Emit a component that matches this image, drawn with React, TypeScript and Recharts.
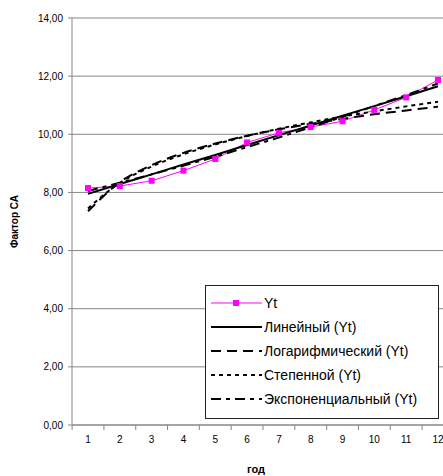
import React from 'react';
import { LineChart, Line, XAxis, YAxis, CartesianGrid, Legend, Label } from 'recharts';

const years = [1, 2, 3, 4, 5, 6, 7, 8, 9, 10, 11, 12];
const yt = [8.15, 8.22, 8.4, 8.75, 9.15, 9.72, 10.05, 10.25, 10.45, 10.84, 11.27, 11.87];
const linear = [7.95, 8.29, 8.62, 8.96, 9.29, 9.63, 9.97, 10.3, 10.64, 10.97, 11.31, 11.65];
const logarithmic = [7.35, 8.35, 8.94, 9.36, 9.68, 9.95, 10.17, 10.36, 10.53, 10.69, 10.82, 10.95];
const power = [7.45, 8.33, 8.89, 9.31, 9.65, 9.94, 10.19, 10.41, 10.61, 10.79, 10.96, 11.12];
const exponential = [8.05, 8.33, 8.62, 8.92, 9.23, 9.56, 9.89, 10.24, 10.6, 10.97, 11.35, 11.75];
const yTicks = [0, 2, 4, 6, 8, 10, 12, 14];

const data = years.map((year, i) => ({
  year,
  yt: yt[i],
  linear: linear[i],
  logarithmic: logarithmic[i],
  power: power[i],
  exponential: exponential[i],
}));

const FONT = '"Liberation Sans", Arial, sans-serif';
const GRAY = '#868686';
const HALF_BAND = 15.9;

const series = [
  { key: 'yt', name: 'Yt', color: '#FF00FF', width: 1, dash: undefined as string | undefined, marker: true },
  { key: 'linear', name: 'Линейный (Yt)', color: '#000', width: 2, dash: undefined, marker: false },
  { key: 'logarithmic', name: 'Логарифмический (Yt)', color: '#000', width: 2, dash: '10 6', marker: false },
  { key: 'power', name: 'Степенной (Yt)', color: '#000', width: 2, dash: '4 4', marker: false },
  { key: 'exponential', name: 'Экспоненциальный (Yt)', color: '#000', width: 2, dash: '10 5 4 5', marker: false },
];

const SquareDot = (props: any) => {
  const { cx, cy } = props;
  if (cx == null || cy == null) return null;
  return <rect x={cx - 3} y={cy - 3} width={6} height={6} fill="#FF00FF" />;
};

const XTick = (props: any) => {
  const { x, y, payload } = props;
  return (
    <g>
      <line x1={x - HALF_BAND} x2={x - HALF_BAND} y1={y - 11} y2={y - 6} stroke={GRAY} />
      <text x={x} y={y} dy="0.71em" textAnchor="middle" fontSize={10} fontFamily={FONT} fill="#000">
        {payload.value}
      </text>
    </g>
  );
};

const TrendLegend = () => (
  <div
    style={{
      background: '#fff',
      border: '1px solid #222',
      width: 232,
      height: 127,
      boxSizing: 'content-box',
      paddingTop: 5,
      fontFamily: FONT,
      fontSize: 14,
      color: '#000',
    }}
  >
    {series.map((s) => (
      <div key={s.key} style={{ height: 24, display: 'flex', alignItems: 'center' }}>
        <svg width={58} height={24} style={{ flex: 'none' }}>
          <line x1={5} x2={56} y1={12} y2={12} stroke={s.color} strokeWidth={s.width} strokeDasharray={s.dash} />
          {s.marker && <rect x={27} y={9} width={6} height={6} fill={s.color} />}
        </svg>
        <span style={{ whiteSpace: 'nowrap' }}>{s.name}</span>
      </div>
    ))}
  </div>
);

export default function App() {
  return (
    <div style={{ position: 'absolute', left: 0, top: 0, width: 443, height: 476, overflow: 'hidden', background: '#fff' }}>
      <LineChart width={470} height={476} data={data} margin={{ top: 18, right: 16, bottom: 0, left: 0 }}>
        <CartesianGrid vertical={false} stroke={GRAY} />
        <XAxis
          dataKey="year"
          padding={{ left: 16, right: 16 }}
          height={51}
          stroke={GRAY}
          tickLine={false}
          tickSize={5}
          tickMargin={6}
          tick={<XTick />}
          interval={0}
        >
          <Label
            value="год"
            position="insideBottom"
            offset={3}
            dx={-7}
            style={{ fontFamily: FONT, fontSize: 11, fontWeight: 'bold', fill: '#000' }}
          />
        </XAxis>
        <YAxis
          width={72}
          domain={[0, 14]}
          ticks={yTicks}
          stroke={GRAY}
          tickSize={4}
          tickMargin={5}
          tickFormatter={(v: number) => v.toFixed(2).replace('.', ',')}
          tick={{ fontSize: 10, fontFamily: FONT, fill: '#000' }}
        >
          <Label
            value="Фактор СА"
            angle={-90}
            position="insideLeft"
            offset={14}
            style={{ textAnchor: 'middle', fontFamily: FONT, fontSize: 10, fontWeight: 'bold', fill: '#000' }}
          />
        </YAxis>
        <Legend
          layout="vertical"
          align="center"
          verticalAlign="middle"
          wrapperStyle={{ left: 205, top: 285, width: 234 }}
          content={<TrendLegend />}
        />
        {series.map((s) => (
          <Line
            key={s.key}
            type={s.marker ? 'linear' : 'monotone'}
            dataKey={s.key}
            name={s.name}
            stroke={s.color}
            strokeWidth={s.width}
            strokeDasharray={s.dash}
            dot={s.marker ? <SquareDot /> : false}
            activeDot={false}
            isAnimationActive={false}
          />
        ))}
      </LineChart>
    </div>
  );
}
